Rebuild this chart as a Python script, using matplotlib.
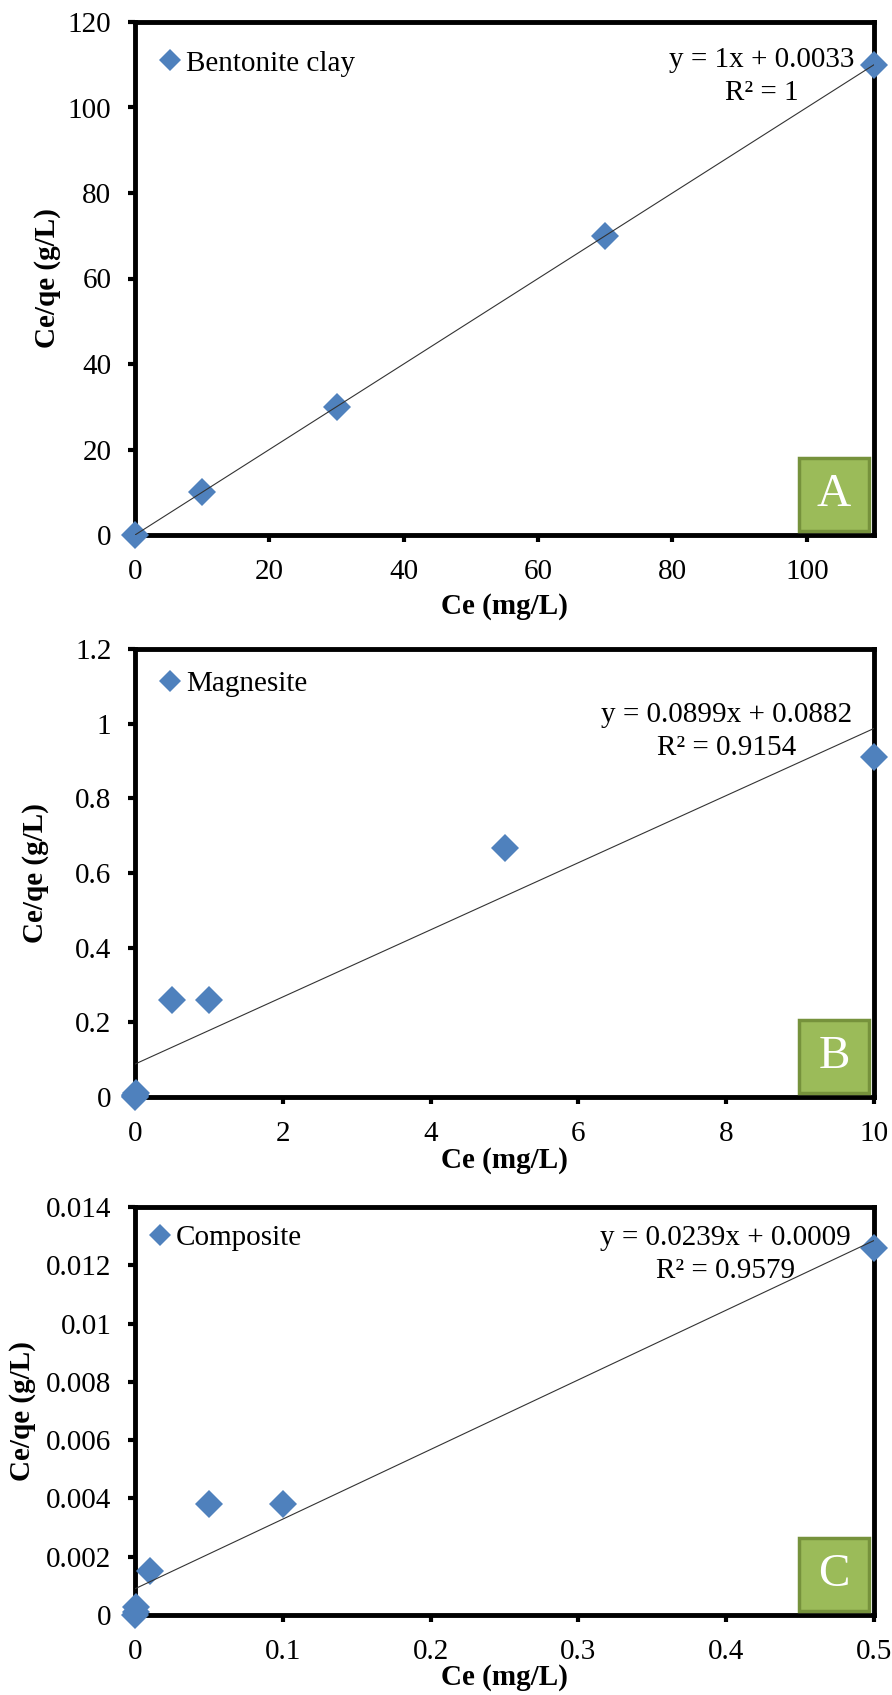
import numpy as np
import matplotlib
matplotlib.use('Agg')
import matplotlib.pyplot as plt
from matplotlib.patches import Rectangle
from matplotlib.ticker import FuncFormatter

plt.rcParams['font.family'] = ['Liberation Serif', 'DejaVu Serif']

# panel data
names = ['Bentonite clay', 'Magnesite', 'Composite']
letters = ['A', 'B', 'C']

ce_a = [0, 10, 30, 70, 110]
ceqe_a = [0, 10, 30, 70, 110]

ce_b = [0, 0.001, 0.005, 0.01, 0.5, 1, 5, 10]
ceqe_b = [0.001, 0.003, 0.006, 0.01, 0.26, 0.26, 0.667, 0.91]

ce_c = [0, 0.0005, 0.001, 0.01, 0.05, 0.1, 0.5]
ceqe_c = [0.0, 0.0001, 0.00027, 0.0015, 0.0038, 0.0038, 0.0126]

slopes = [1.0, 0.0899, 0.0239]
intercepts = [0.0033, 0.0882, 0.0009]
r2 = ['1', '0.9154', '0.9579']
slope_txt = ['1', '0.0899', '0.0239']
icpt_txt = ['0.0033', '0.0882', '0.0009']

xticks = [[0, 20, 40, 60, 80, 100], [0, 2, 4, 6, 8, 10], [0, 0.1, 0.2, 0.3, 0.4, 0.5]]
xlims = [(0, 110), (0, 10), (0, 0.5)]
yticks = [[0, 20, 40, 60, 80, 100, 120],
          [0, 0.2, 0.4, 0.6, 0.8, 1.0, 1.2],
          [0, 0.002, 0.004, 0.006, 0.008, 0.01, 0.012, 0.014]]

xs = [ce_a, ce_b, ce_c]
ys = [ceqe_a, ceqe_b, ceqe_c]

# layout (pixels of the 892x1695 figure)
W, H = 892, 1695
left, right = 135, 874
tops = [22, 649, 1207]
bottoms = [535, 1097, 1615]
ylabel_x = [-0.118, -0.135, -0.152]
xlabel_y = [-0.140, -0.141, -0.154]
legend_anchor = [(0.036, 0.945), (0.036, 0.951), (0.022, 0.956)]
eq_pos = [(0.973, 0.893), (0.970, 0.815), (0.969, 0.884)]

blue = '#4F81BD'
fs = 21

fig = plt.figure(figsize=(W / 100, H / 100), dpi=100)

for i in range(3):
    ax = fig.add_axes([left / W, 1 - bottoms[i] / H, (right - left) / W, (bottoms[i] - tops[i]) / H])

    ax.plot(xs[i], ys[i], linestyle='none', marker='D', markersize=14, color=blue,
            markeredgewidth=0, clip_on=False, zorder=3, label=names[i])
    xfit = np.array(xlims[i])
    ax.plot(xfit, slopes[i] * xfit + intercepts[i], color='#333333', lw=0.8, zorder=4)

    ax.set_xlim(*xlims[i])
    ax.set_ylim(yticks[i][0], yticks[i][-1])
    ax.set_xticks(xticks[i])
    ax.set_yticks(yticks[i])
    fmt = FuncFormatter(lambda v, p: '{:g}'.format(round(v, 6)))
    ax.xaxis.set_major_formatter(fmt)
    ax.yaxis.set_major_formatter(fmt)

    for sp in ax.spines.values():
        sp.set_linewidth(3.5)
        sp.set_color('black')
    ax.tick_params(axis='both', direction='out', length=5, width=3, labelsize=fs, color='black')
    ax.tick_params(axis='x', pad=12)
    ax.tick_params(axis='y', pad=12)

    ax.set_xlabel('Ce (mg/L)', fontsize=fs, fontweight='bold')
    ax.set_ylabel('Ce/qe (g/L)', fontsize=fs, fontweight='bold')
    ax.xaxis.set_label_coords(0.5, xlabel_y[i])
    ax.xaxis.label.set_va('center')
    ax.yaxis.set_label_coords(ylabel_x[i], 0.5)
    ax.yaxis.label.set_va('center')

    ax.legend(loc='upper left', bbox_to_anchor=legend_anchor[i], frameon=False, fontsize=fs,
              handlelength=0.6, handletextpad=0.25, borderpad=0, borderaxespad=0, markerscale=0.8)

    ax.text(eq_pos[i][0], eq_pos[i][1],
            'y = ' + slope_txt[i] + 'x + ' + icpt_txt[i] + '\nR² = ' + r2[i],
            transform=ax.transAxes, ha='right', va='center', multialignment='center',
            fontsize=fs, linespacing=1.35)

    # green letter box in bottom right corner
    ax_w = right - left
    ax_h = bottoms[i] - tops[i]
    bw, bh = 70 / ax_w, 73 / ax_h
    bx = 1 - 5 / ax_w - bw
    by = 4 / ax_h
    ax.add_patch(Rectangle((bx, by), bw, bh, transform=ax.transAxes, facecolor='#9BBB59',
                           edgecolor='#76923C', lw=2.5, zorder=5, clip_on=False))
    ax.text(bx + bw / 2, by + bh / 2, letters[i], transform=ax.transAxes, ha='center', va='center',
            color='white', fontsize=34, zorder=6)

fig.savefig('out.png', dpi=100)
